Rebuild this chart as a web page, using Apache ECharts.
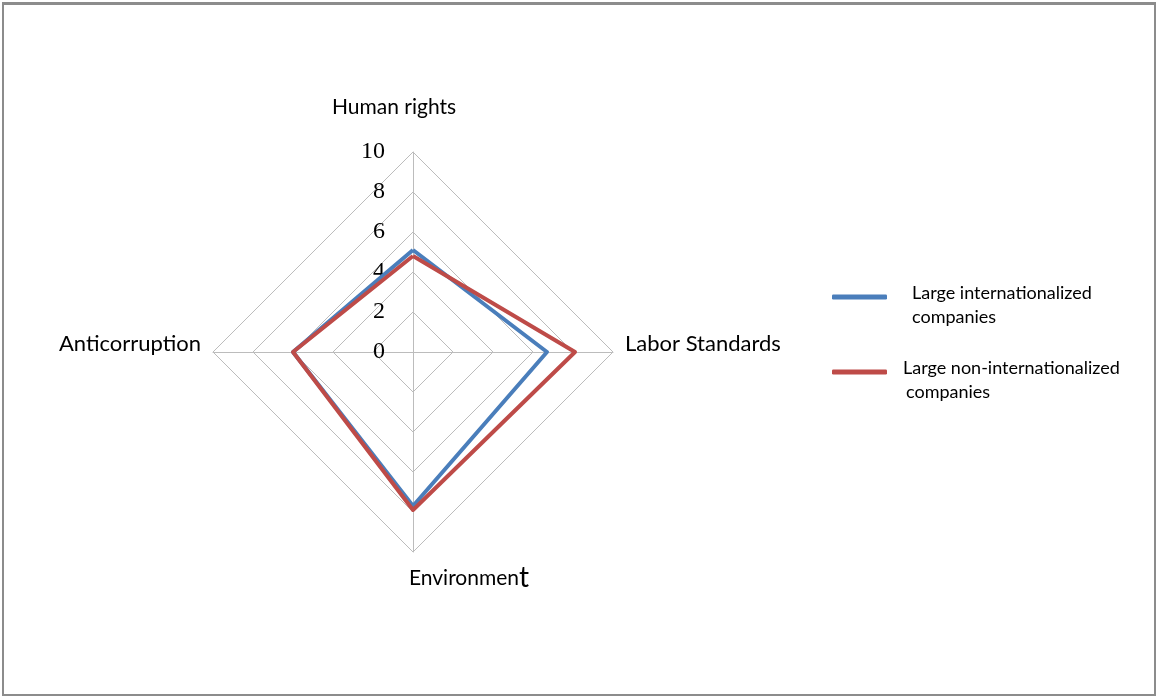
<!DOCTYPE html>
<html>
<head>
<meta charset="utf-8">
<script src="https://cdn.jsdelivr.net/npm/echarts@6/dist/echarts.min.js"></script>
<style>
html,body{margin:0;padding:0;background:#fff;}
#chart{position:absolute;left:2px;top:2px;width:1150px;height:689px;border:2px solid #8c8c8c;border-top-width:3px;background:#fff;}
</style>
</head>
<body>
<div id="chart"></div>
<script>
// axes (ECharts radar goes counter-clockwise from the top)
var indicators = ['Human rights', 'Anticorruption', 'Environment', 'Labor Standards'];
var maxVal = 10;
var seriesNames = ['Large internationalized companies', 'Large non-internationalized companies'];
var intlValues = [5.1, 6.0, 7.7, 6.7];
var nonIntlValues = [4.8, 6.0, 7.9, 8.1];

var chart = echarts.init(document.getElementById('chart'));
var option = {
    animation: false,
    legend: {
        orient: 'vertical',
        left: 823,
        top: 255,
        itemGap: 11,
        itemWidth: 55,
        itemHeight: 5,
        icon: 'roundRect',
        formatter: function (name) {
            if (name === seriesNames[0]) {
                return '{a|Large internationalized}\n{a|companies}';
            }
            return '{b|Large non-internationalized}\n{c|companies}';
        },
        textStyle: {
            fontFamily: 'Lato',
            fontSize: 18,
            color: '#000',
            lineHeight: 24,
            padding: [16, 0, 0, 0],
            rich: {
                a: { fontFamily: 'Lato', fontSize: 18, color: '#000', lineHeight: 24, padding: [0, 0, 0, 20] },
                b: { fontFamily: 'Lato', fontSize: 18, color: '#000', lineHeight: 24, padding: [0, 0, 0, 11] },
                c: { fontFamily: 'Lato', fontSize: 18, color: '#000', lineHeight: 24, padding: [0, 0, 0, 14] }
            }
        },
        data: seriesNames
    },
    radar: {
        center: [409, 347],
        radius: 200,
        shape: 'polygon',
        splitNumber: 5,
        nameGap: 12,
        axisName: {
            color: '#000',
            fontFamily: 'Lato',
            fontSize: 22,
            formatter: function (name) {
                if (name === 'Human rights') return '{top|' + name + '}';
                if (name === 'Environment') return '{n|Environmen}{b|t}';
                return '{side|' + name + '}';
            },
            rich: {
                top: { fontFamily: 'Lato', fontSize: 21, color: '#000', padding: [0, 38, 22, 0] },
                side: { fontFamily: 'Lato', fontSize: 22, color: '#000', padding: [0, 0, 16, 0] },
                n: { fontFamily: 'Lato', fontSize: 21, color: '#000', padding: [0, 0, 0, 112] },
                b: { fontFamily: 'Lato', fontSize: 28, color: '#000' }
            }
        },
        splitLine: { lineStyle: { color: '#bcbcbc', width: 1 } },
        splitArea: { show: false },
        axisLine: { lineStyle: { color: '#bcbcbc', width: 1 } },
        indicator: indicators.map(function (n, i) {
            var ind = { name: n, max: maxVal, min: 0 };
            if (i === 0) {
                ind.axisLabel = {
                    show: true,
                    color: '#000',
                    fontFamily: 'Liberation Serif',
                    fontSize: 24,
                    margin: 28
                };
            }
            return ind;
        })
    },
    series: [{
        type: 'radar',
        symbol: 'none',
        data: [
            { name: seriesNames[0], value: intlValues,
              lineStyle: { color: '#4a7ebb', width: 4 }, itemStyle: { color: '#4a7ebb' } },
            { name: seriesNames[1], value: nonIntlValues,
              lineStyle: { color: '#be4b48', width: 4 }, itemStyle: { color: '#be4b48' } }
        ]
    }]
};
chart.setOption(option);
</script>
</body>
</html>
